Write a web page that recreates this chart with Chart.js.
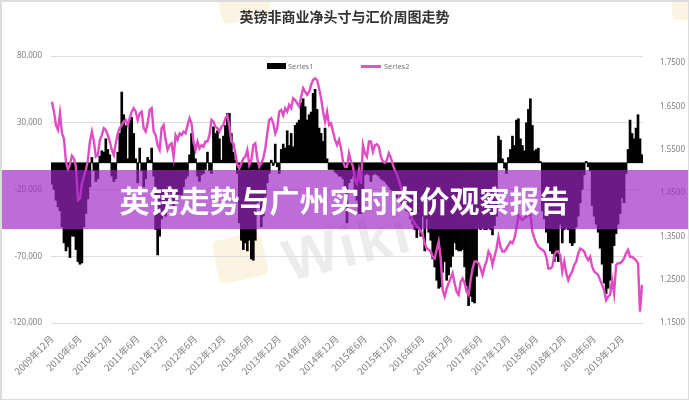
<!DOCTYPE html>
<html lang="zh">
<head>
<meta charset="utf-8">
<title>英镑走势与广州实时肉价观察报告</title>
<script src="https://cdn.jsdelivr.net/npm/chart.js@4/dist/chart.umd.js"></script>
<style>
  html, body { margin: 0; padding: 0; background: #fff; }
  #stage { position: relative; width: 689px; height: 400px; overflow: hidden; font-family: "Noto Sans CJK SC", sans-serif; }
  #stage canvas { position: absolute; left: 0; top: 0; }
  .frame { position: absolute; inset: 0; border: 1px solid #dcdcdc; border-left-width: 2px; border-top-width: 2px; box-sizing: border-box; pointer-events: none; }
  .mark { position: absolute; }
  .logo { background: #fbf4e3; border-radius: 6px; }
  .wiki { color: #eeecea; font: bold 58px "Liberation Sans", sans-serif; transform: rotate(-14deg); letter-spacing: 3px; }
  .legend { position: absolute; top: 59px; height: 14px; font: 7.5px "Noto Sans", sans-serif; color: #777; line-height: 14px; }
  .legend i { position: absolute; left: 0; display: block; }
  .banner { position: absolute; left: 0; top: 170px; width: 689px; height: 59px; background: rgba(159, 38, 196, 0.68); color: #fff; font-weight: 700; font-size: 30px; line-height: 59px; text-align: center; }
</style>
</head>
<body>
<div id="stage">
  <div class="mark logo" style="left:215px;top:236px;width:50px;height:44px;transform:rotate(-12deg)"></div>
  <div class="mark logo" style="left:218px;top:-24px;width:50px;height:44px;transform:rotate(-12deg)"></div>
  <div class="mark logo" style="left:672px;top:-8px;width:30px;height:28px"></div>
  <div class="mark wiki" style="left:282px;top:212px">Wiki</div>
  <canvas id="chart" width="689" height="400"></canvas>
  <div class="legend" style="left:267px;width:60px"><i style="top:4px;width:19px;height:6px;background:#000"></i><span style="margin-left:21px">Series1</span></div>
  <div class="legend" style="left:361px;width:60px"><i style="top:6px;width:20px;height:3px;background:#d45cc0"></i><span style="margin-left:23px">Series2</span></div>
  <div class="banner">英镑走势与广州实时肉价观察报告</div>
  <div class="frame"></div>
</div>
<script>
// non-commercial net position, thousands of contracts
const positions = [
  -16, -20, -28, -33, -36, -48, -60, -66, -63, -71, -55, -55, -65, -74, -76, -75, -48, -38, -27, -18,
  4, -6, -14, -12, 5, 9, 8, 18, 10, 6, -10, -14, -12, 8, 22, 53, 36, 28, 3, 32,
  34, 22, 3, -15, 11, -6, -18, -12, 4, 2, 11, -10,
  -50, -69, -55, -42, -38, -40, -32, -22, -30, -32, -28, -30, -24, -24, -18, -12, -10,
  6, 22, 14, 3, -10, -14, -9, -8, -5, 8, -6, -8, 27, 22, 24, 18, 2, 20, 28, 37, 37,
  22, 8, 2, -8, -45, -58, -65, -60, -66, -58, -72, -73, -58, -30, -28,
  -48, -40, -25, -15, -8, 2, -2, 14, -3, -8, 10, 14, 11, 24, 13, 22, 12, 28, 30, 32,
  45, 48, 42, 32, 36, 38, 52, 55, 40, 26, 22, 16, 26, 3, -5, -5, -5, -7, -8, -10,
  -10, -12, -20, -45, -15, -12, -10, -20, -28, -38, -38, -25,
  -9, -8, -9, -14, -9, -8, -9, -10, -12, -13, -14, -16, -18, -20, -22, -24, -26, -24, -30, -33,
  -32, -36, -34, -42, -46, -50,
  -56, -50, -55, -40, -66, -42, -52, -58, -72, -78, -88, -94, -93, -82, -74, -88, -84, -78, -70, -60,
  -65, -66, -66, -65, -78, -92, -107, -100, -104, -105, -85, -49, -50, -49, -50, -50, -49, -50, -54, -47, -40,
  20, 17, 3, -4, -8, 4, 10, 20, 13, 32, 33, 18, 13, 9, 30, 40, 48, 28, 9, 10, 11, 1,
  -36, -42, -52, -60, -66, -68, -74, -70, -74, -46, -60, -50, -49, -50, -60, -62, -60, -48, -40, -30,
  -20, -9, 1, -3, -6, -32, -40, -46, -52, -64, -76, -90, -98, -94, -88, -75, -62, -53, -46, -38,
  -26, -30, -8, 10, 32, 22, 18, 26, 36, 18, 6
];

// GBP/USD weekly close
const prices = [
  1.661, 1.638, 1.607, 1.596, 1.634, 1.588, 1.576, 1.523, 1.505, 1.515, 1.536, 1.530, 1.511, 1.434, 1.438, 1.472, 1.488, 1.503, 1.526, 1.569,
  1.592, 1.569, 1.534, 1.538, 1.572, 1.584, 1.600, 1.596, 1.584, 1.569, 1.550, 1.538, 1.565, 1.588, 1.600, 1.607, 1.615, 1.619, 1.607, 1.623,
  1.638, 1.646, 1.638, 1.619, 1.634, 1.638, 1.600, 1.592, 1.611, 1.642, 1.646, 1.592,
  1.584, 1.561, 1.550, 1.600, 1.607, 1.573, 1.550, 1.561, 1.565, 1.533, 1.584, 1.573, 1.588, 1.584, 1.592, 1.588, 1.607,
  1.623, 1.611, 1.569, 1.550, 1.569, 1.553, 1.561, 1.557, 1.569, 1.569, 1.584, 1.619, 1.615, 1.603, 1.600, 1.592, 1.603, 1.607, 1.623, 1.630, 1.603,
  1.569, 1.565, 1.542, 1.515, 1.507, 1.519, 1.530, 1.534, 1.550, 1.515, 1.526, 1.561, 1.565, 1.530, 1.511,
  1.519, 1.530, 1.553, 1.588, 1.619, 1.623, 1.611, 1.588, 1.600, 1.638, 1.642, 1.630, 1.646, 1.638, 1.654, 1.646, 1.669, 1.665, 1.657, 1.650,
  1.673, 1.692, 1.684, 1.677, 1.684, 1.700, 1.711, 1.715, 1.711, 1.692, 1.669, 1.638, 1.615, 1.638, 1.607, 1.611, 1.592, 1.573, 1.561, 1.573,
  1.553, 1.523, 1.511, 1.511, 1.542, 1.523, 1.511, 1.480, 1.472, 1.503, 1.472, 1.561,
  1.542, 1.534, 1.569, 1.569, 1.546, 1.561, 1.563, 1.557, 1.534, 1.523, 1.520, 1.526, 1.542, 1.532, 1.515, 1.503, 1.494, 1.480, 1.465, 1.446,
  1.434, 1.423, 1.407, 1.399, 1.388, 1.380, 1.374, 1.369, 1.363, 1.353, 1.334, 1.322,
  1.319, 1.315, 1.303, 1.299, 1.319, 1.338, 1.299, 1.226, 1.211, 1.230, 1.242, 1.253, 1.265, 1.242, 1.222, 1.215, 1.245, 1.253, 1.242, 1.222,
  1.215, 1.249, 1.276, 1.292, 1.292, 1.288, 1.276, 1.261, 1.280, 1.292, 1.315, 1.307, 1.284, 1.303, 1.322, 1.349, 1.326, 1.315, 1.315, 1.322,
  1.330, 1.338, 1.334, 1.346, 1.369, 1.399, 1.392, 1.388, 1.392, 1.396, 1.399, 1.403, 1.361, 1.346, 1.334, 1.326, 1.322, 1.319, 1.315, 1.303,
  1.276, 1.276, 1.280, 1.307, 1.315, 1.315, 1.307, 1.269, 1.292, 1.265, 1.249, 1.261, 1.269, 1.284, 1.292, 1.311, 1.322, 1.319, 1.315, 1.303,
  1.295, 1.303, 1.280, 1.269, 1.265, 1.261, 1.249, 1.238, 1.226, 1.203, 1.211, 1.215, 1.249, 1.218, 1.284, 1.288, 1.288, 1.292, 1.299, 1.311,
  1.319, 1.303, 1.303, 1.299, 1.295, 1.288, 1.176, 1.238
];

const tickLabels = [
  '2009年12月', '2010年6月', '2010年12月', '2011年6月', '2011年12月', '2012年6月', '2012年12月',
  '2013年6月', '2013年12月', '2014年6月', '2014年12月', '2015年6月', '2015年12月', '2016年6月',
  '2016年12月', '2017年6月', '2017年12月', '2018年6月', '2018年12月', '2019年6月', '2019年12月'
];
const priceTicks = [1.15, 1.25, 1.35, 1.45, 1.55, 1.65, 1.75];

// one label every half year, the rest of the categories stay blank
const categories = positions.map(() => '');
tickLabels.forEach((label, k) => { categories[Math.round(k * 14.3)] = label; });

const tickFont = { family: '"Noto Sans CJK SC", "Noto Sans", sans-serif', size: 9.5 };
const valueFont = { family: '"Noto Sans", sans-serif', size: 8 };

new Chart(document.getElementById('chart'), {
  data: {
    labels: categories,
    datasets: [
      {
        type: 'line',
        label: 'Series2',
        data: prices,
        yAxisID: 'yRight',
        borderColor: '#e04cc4',
        borderWidth: 2.4,
        pointRadius: 0,
        tension: 0,
        order: 0
      },
      {
        type: 'bar',
        label: 'Series1',
        data: positions,
        yAxisID: 'yLeft',
        backgroundColor: '#000',
        barPercentage: 1,
        categoryPercentage: 1,
        order: 1
      }
    ]
  },
  options: {
    responsive: false,
    animation: false,
    layout: { padding: 0 },
    plugins: {
      legend: { display: false },
      tooltip: { enabled: false },
      title: {
        display: true,
        text: '英镑非商业净头寸与汇价周图走势',
        color: '#333',
        font: { family: '"Noto Sans CJK SC", sans-serif', size: 14, weight: 'bold' },
        padding: { top: 8, bottom: 31.2 }
      }
    },
    scales: {
      x: {
        grid: { display: false },
        border: { display: false },
        afterFit: axis => { axis.height = 77; },
        ticks: {
          autoSkip: false,
          minRotation: 45,
          maxRotation: 45,
          padding: 2,
          color: '#808080',
          font: tickFont
        }
      },
      yLeft: {
        position: 'left',
        min: -120,
        max: 80,
        grid: { color: '#dedede', drawTicks: false },
        border: { display: false },
        afterFit: axis => { axis.width = 51; },
        ticks: {
          stepSize: 50,
          padding: 9,
          color: '#808080',
          font: valueFont,
          callback: v => v + ',000'
        }
      },
      yRight: {
        position: 'right',
        min: 1.15,
        max: 1.7666,
        grid: { display: false },
        border: { display: false },
        afterFit: axis => { axis.width = 46; },
        afterBuildTicks: axis => { axis.ticks = priceTicks.map(value => ({ value })); },
        ticks: {
          padding: 9,
          color: '#808080',
          font: valueFont,
          callback: v => v.toFixed(4)
        }
      }
    }
  }
});
</script>
</body>
</html>
